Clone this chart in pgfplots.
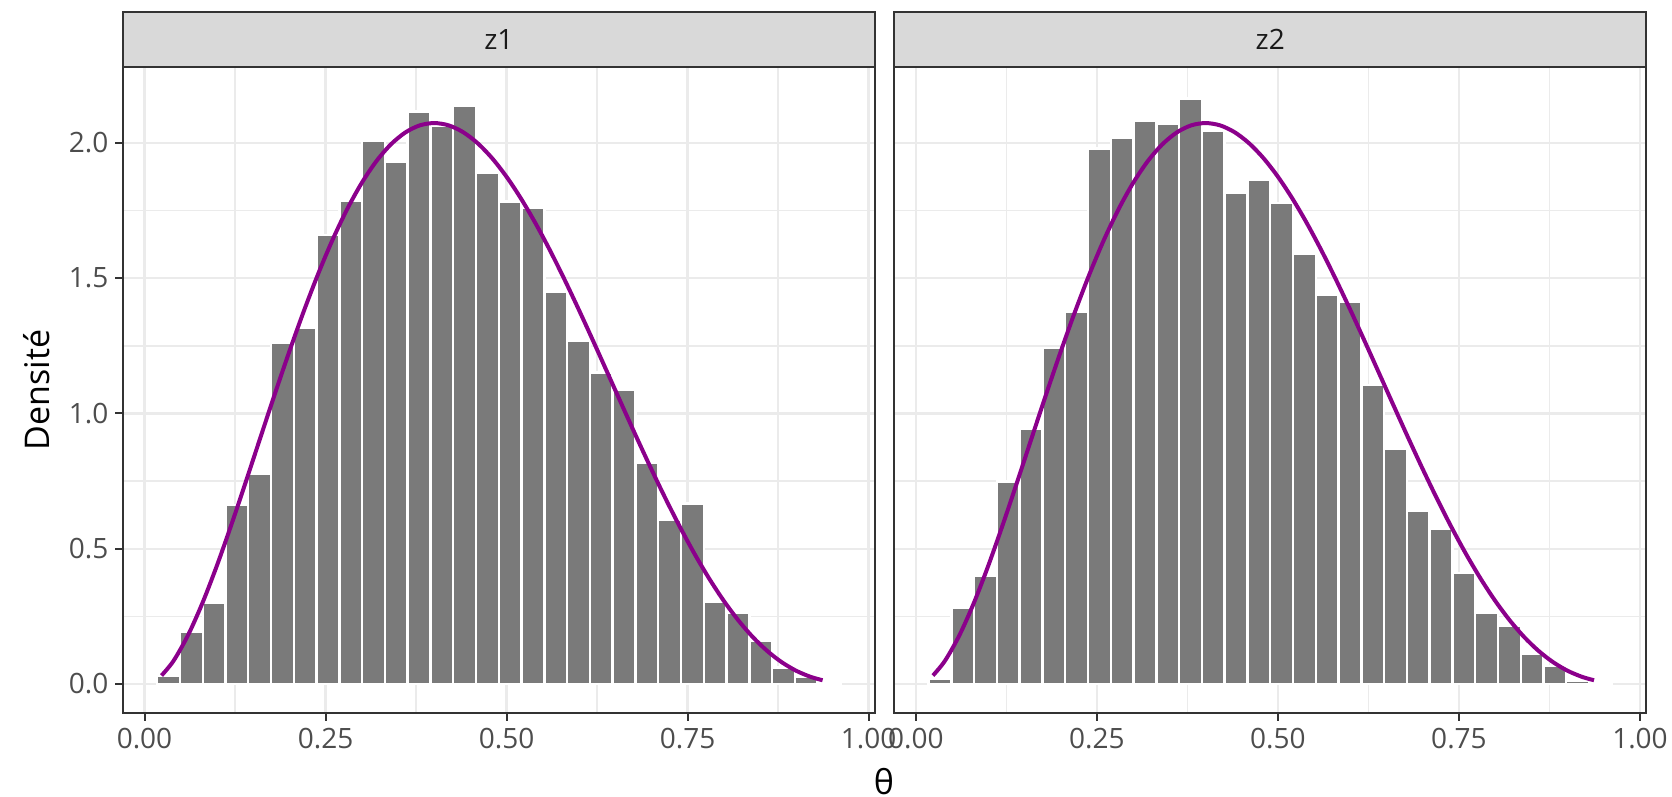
\documentclass[border=0pt]{standalone}
\usepackage{pgfplots}
\usepackage{pgfplotstable}
\pgfplotsset{compat=1.18}
\usetikzlibrary{calc}
\usepackage{fontspec}
\setmainfont{Open Sans}
\definecolor{barfill}{RGB}{122,122,122}
\definecolor{curvecol}{RGB}{139,0,139}
\definecolor{grey20}{RGB}{51,51,51}
\definecolor{grey30}{RGB}{77,77,77}
\definecolor{grey92}{RGB}{235,235,235}
\definecolor{grey85}{RGB}{217,217,217}
\definecolor{grey10}{RGB}{26,26,26}

\pgfplotstableread{
x y
0.0235 0.0309
0.04 0.0849
0.06 0.1794
0.08 0.2990
0.10 0.4374
0.12 0.5888
0.14 0.7480
0.16 0.9104
0.18 1.0719
0.20 1.2288
0.22 1.3781
0.24 1.5171
0.26 1.6436
0.28 1.7558
0.30 1.8522
0.32 1.9319
0.34 1.9941
0.36 2.0384
0.38 2.0649
0.40 2.0736
0.42 2.0651
0.44 2.0400
0.46 1.9992
0.48 1.9438
0.50 1.8750
0.52 1.7942
0.54 1.7030
0.56 1.6028
0.58 1.4954
0.60 1.3824
0.62 1.2656
0.64 1.1466
0.66 1.0273
0.68 0.9091
0.70 0.7938
0.72 0.6828
0.74 0.5775
0.76 0.4791
0.78 0.3887
0.80 0.3072
0.82 0.2353
0.84 0.1734
0.86 0.1218
0.88 0.0803
0.90 0.0486
0.92 0.0260
0.9365 0.0135
}\curvetab

\pgfplotstableread{
x h
0.0175 0.029
0.04895 0.194
0.08041 0.301
0.11186 0.661
0.14331 0.778
0.17477 1.260
0.20622 1.317
0.23767 1.659
0.26912 1.787
0.30058 2.009
0.33203 1.930
0.36348 2.117
0.39494 2.062
0.42639 2.136
0.45784 1.889
0.48930 1.784
0.52075 1.762
0.55220 1.450
0.58365 1.269
0.61511 1.152
0.64656 1.089
0.67801 0.816
0.70947 0.607
0.74092 0.667
0.77237 0.304
0.80383 0.263
0.83528 0.159
0.86673 0.060
0.89818 0.026
0.92964 0.006
0.96109 0.006
}\barsA

\pgfplotstableread{
x h
0.0175 0.018
0.04895 0.282
0.08041 0.401
0.11186 0.749
0.14331 0.942
0.17477 1.243
0.20622 1.376
0.23767 1.980
0.26912 2.018
0.30058 2.082
0.33203 2.069
0.36348 2.164
0.39494 2.044
0.42639 1.817
0.45784 1.865
0.48930 1.779
0.52075 1.592
0.55220 1.437
0.58365 1.412
0.61511 1.105
0.64656 0.871
0.67801 0.640
0.70947 0.573
0.74092 0.409
0.77237 0.263
0.80383 0.215
0.83528 0.111
0.86673 0.066
0.89818 0.013
0.92964 0.003
0.96109 0.003
}\barsB

\pgfplotsset{
  panel/.style={
    scale only axis, width=375.8pt, height=323.3pt,
    anchor=south west,
    xmin=-0.0297, xmax=1.0083, ymin=-0.1087, ymax=2.282,
    xtick={0,0.25,0.5,0.75,1}, ytick={0,0.5,1,1.5,2},
    minor xtick={0.125,0.375,0.625,0.875},
    minor ytick={0.25,0.75,1.25,1.75},
    grid=both,
    major grid style={grey92, line width=1.1pt},
    minor grid style={grey92, line width=0.7pt},
    axis line style={grey20, line width=1pt},
    tick align=outside, major tick length=3.8pt, minor tick length=0pt,
    tick style={grey20, line width=1pt},
    xtick pos=bottom, ytick pos=left,
    ticklabel style={font=\fontsize{14}{16}\selectfont, text=grey30},
    xticklabels={0.00,0.25,0.50,0.75,1.00},
  },
  bars/.style={ybar interval, fill=barfill, draw=white, line width=1.2pt},
  dens/.style={curvecol, line width=2pt, smooth, no marks},
}

\begin{document}
\begin{tikzpicture}
\path[use as bounding box] (0,0) rectangle (836pt,398.5pt);

\begin{axis}[panel, name=ax1, at={(61.5pt,41.85pt)},
  yticklabels={0.0,0.5,1.0,1.5,2.0}]
  \addplot[bars] table[x=x, y=h] {\barsA};
  \addplot[dens] table[x=x, y=y] {\curvetab};
\end{axis}

\begin{axis}[panel, name=ax2, at={(447.2pt,41.85pt)},
  yticklabels={}, ytick style={draw=none}]
  \addplot[bars] table[x=x, y=h] {\barsB};
  \addplot[dens] table[x=x, y=y] {\curvetab};
\end{axis}

\draw[fill=grey85, draw=grey20, line width=1pt] (ax1.north west) rectangle ++(375.8pt,27.5pt);
\draw[fill=grey85, draw=grey20, line width=1pt] (ax2.north west) rectangle ++(375.8pt,27.5pt);
\node[text=grey10, font=\fontsize{14}{16}\selectfont] at ($(ax1.north)+(0,13.75pt)$) {z1};
\node[text=grey10, font=\fontsize{14}{16}\selectfont] at ($(ax2.north)+(0,13.75pt)$) {z2};

\node[font=\fontsize{17}{20}\selectfont, inner sep=0pt] at (442pt,7.5pt) {θ};
\node[font=\fontsize{17}{20}\selectfont, rotate=90] at (18.5pt,203.5pt) {Densité};
\end{tikzpicture}
\end{document}
